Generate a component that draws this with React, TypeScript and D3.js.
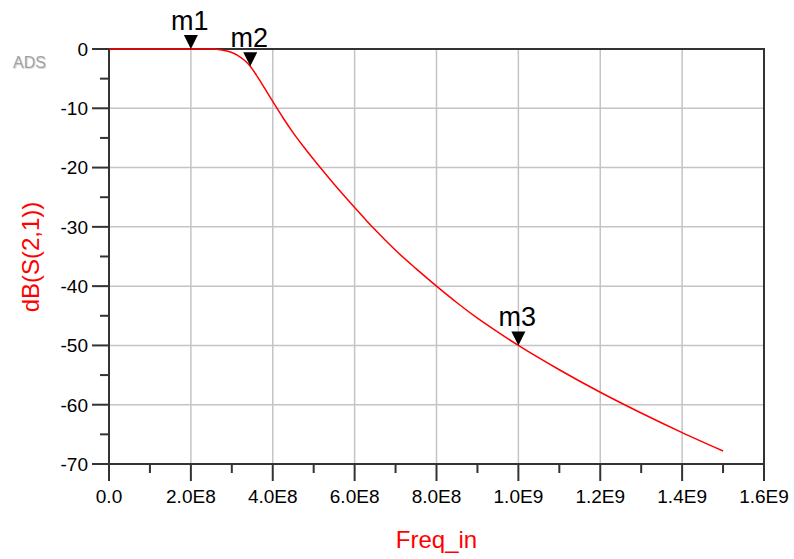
import React from 'react';
import * as d3 from 'd3';

// S21 sweep, freq in Hz, magnitude in dB
const freq = [0, 1e8, 2e8, 2.5e8, 2.75e8, 3.0e8, 3.15e8, 3.3e8, 3.45e8, 3.6e8, 3.75e8, 3.875e8, 4.0e8,
  4.25e8, 4.5e8, 4.75e8, 5.0e8, 5.25e8, 5.5e8, 5.75e8, 6.0e8, 6.25e8, 6.5e8, 6.75e8, 7.0e8, 7.5e8,
  8.0e8, 8.5e8, 9.0e8, 9.5e8, 1.0e9, 1.1e9, 1.2e9, 1.3e9, 1.4e9, 1.5e9];
const s21 = [0, 0, 0, -0.02, -0.15, -0.6, -1.1, -1.85, -2.9, -4.4, -6.05, -7.45, -8.85,
  -11.6, -14.15, -16.45, -18.65, -20.75, -22.8, -24.8, -26.75, -28.65, -30.5, -32.25, -33.95, -37.05,
  -40.0, -42.8, -45.4, -47.75, -50.0, -54.1, -57.9, -61.4, -64.7, -67.8];

const markerNames = ['m1', 'm2', 'm3'];
const markerFreq = [2e8, 3.45e8, 1e9];
const markerDb = [0, -2.9, -50];

const xTickValues = [0, 2e8, 4e8, 6e8, 8e8, 1e9, 1.2e9, 1.4e9, 1.6e9];
const xTickLabels = ['0.0', '2.0E8', '4.0E8', '6.0E8', '8.0E8', '1.0E9', '1.2E9', '1.4E9', '1.6E9'];
const xMinorTicks = [1e8, 3e8, 5e8, 7e8, 9e8, 1.1e9, 1.3e9, 1.5e9];
const yTickValues = [0, -10, -20, -30, -40, -50, -60, -70];
const yTickLabels = ['0', '-10', '-20', '-30', '-40', '-50', '-60', '-70'];
const yMinorTicks = [-5, -15, -25, -35, -45, -55, -65];

const FONT = "Arial, 'Liberation Sans', sans-serif";

export default function App() {
  const left = 109, right = 764, top = 49, bottom = 464;

  const x = d3.scaleLinear().domain([0, 1.6e9]).range([left, right]);
  const y = d3.scaleLinear().domain([-70, 0]).range([bottom, top]);

  const pts: [number, number][] = freq.map((f, i) => [f, s21[i]]);
  const line = d3.line<[number, number]>()
    .x(d => x(d[0]))
    .y(d => y(d[1]))
    .curve(d3.curveMonotoneX);

  const axisColor = '#333333';
  const gridColor = '#c4c4c4';

  return (
    <svg width={794} height={559} style={{ position: 'absolute', left: 0, top: 0, background: '#fff' }}>
      {/* ADS watermark */}
      <text x={14} y={69} fontFamily={FONT} fontSize={16} fill="#dcdcdc">ADS</text>
      <text x={13} y={68} fontFamily={FONT} fontSize={16} fill="#a2a2a2">ADS</text>

      {/* grid */}
      {xTickValues.slice(1, -1).map((v, i) => (
        <line key={'gx' + i} x1={x(v)} x2={x(v)} y1={top} y2={bottom} stroke={gridColor} strokeWidth={1.5} />
      ))}
      {yTickValues.slice(1, -1).map((v, i) => (
        <line key={'gy' + i} x1={left} x2={right} y1={y(v)} y2={y(v)} stroke={gridColor} strokeWidth={1.5} />
      ))}

      {/* frame */}
      <rect x={left} y={top} width={right - left} height={bottom - top} fill="none" stroke={axisColor} strokeWidth={2} />

      {/* x ticks */}
      {xTickValues.map((v, i) => (
        <g key={'xt' + i}>
          <line x1={x(v)} x2={x(v)} y1={bottom} y2={bottom + 17} stroke={axisColor} strokeWidth={2} />
          <text x={x(v)} y={503} textAnchor="middle" fontFamily={FONT} fontSize={19} fill="#000">{xTickLabels[i]}</text>
        </g>
      ))}
      {xMinorTicks.map((v, i) => (
        <line key={'xm' + i} x1={x(v)} x2={x(v)} y1={bottom} y2={bottom + 9} stroke={axisColor} strokeWidth={2} />
      ))}

      {/* y ticks */}
      {yTickValues.map((v, i) => (
        <g key={'yt' + i}>
          <line x1={left - 17} x2={left} y1={y(v)} y2={y(v)} stroke={axisColor} strokeWidth={2} />
          <text x={88} y={y(v) + 6.8} textAnchor="end" fontFamily={FONT} fontSize={19} fill="#000">{yTickLabels[i]}</text>
        </g>
      ))}
      {yMinorTicks.map((v, i) => (
        <line key={'ym' + i} x1={left - 9} x2={left} y1={y(v)} y2={y(v)} stroke={axisColor} strokeWidth={2} />
      ))}

      {/* trace */}
      <path d={line(pts) || ''} fill="none" stroke="#ff0000" strokeWidth={1.5} />

      {/* markers */}
      {markerNames.map((m, i) => {
        const mx = x(markerFreq[i]);
        const my = y(markerDb[i]);
        return (
          <g key={m}>
            <path d={`M${mx - 7},${my - 14}L${mx + 7},${my - 14}L${mx},${my}Z`} fill="#000" />
            <text x={mx - 1} y={my - 19.5} textAnchor="middle" fontFamily={FONT} fontSize={27} fill="#000">{m}</text>
          </g>
        );
      })}

      {/* axis titles */}
      <text transform="translate(38.5,257) rotate(-90)" textAnchor="middle" fontFamily={FONT} fontSize={24} fill="#ff0000">dB(S(2,1))</text>
      <text x={436.5} y={548} textAnchor="middle" fontFamily={FONT} fontSize={24} fill="#ff0000">Freq_in</text>
    </svg>
  );
}
